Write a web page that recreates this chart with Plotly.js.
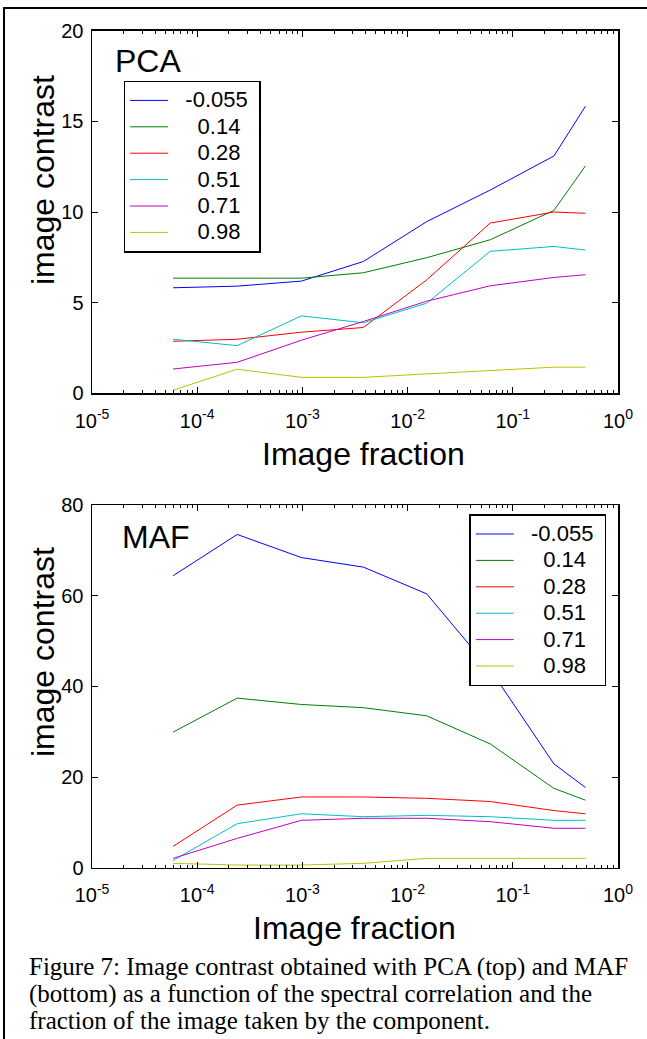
<!DOCTYPE html>
<html>
<head>
<meta charset="utf-8">
<script src="https://cdn.plot.ly/plotly-3.0.1.min.js"></script>
<style>html,body{margin:0;padding:0;background:#fff;}#chart{width:647px;height:1039px;}</style>
</head>
<body>
<div id="chart"></div>
<script>
// ---- data ----
const imageFraction = [5.9e-5, 2.4e-4, 9.8e-4, 3.8e-3, 0.0152, 0.061, 0.246, 0.49];
const correlations = ['-0.055', '0.14', '0.28', '0.51', '0.71', '0.98'];

const pcaNeg055 = [5.82, 5.91, 6.19, 7.27, 9.47, 11.21, 13.09, 15.83];
const pca014    = [6.35, 6.35, 6.35, 6.65, 7.48, 8.47, 10.09, 12.54];
const pca028    = [2.87, 2.98, 3.37, 3.63, 6.26, 9.39, 10.0, 9.93];
const pca051    = [2.98, 2.63, 4.27, 3.89, 4.97, 7.83, 8.10, 7.90];
const pca071    = [1.34, 1.71, 2.93, 3.96, 5.08, 5.93, 6.39, 6.54];
const pca098    = [0.17, 1.33, 0.88, 0.88, 1.07, 1.27, 1.44, 1.44];

const mafNeg055 = [64.4, 73.5, 68.4, 66.3, 60.4, 43.7, 22.9, 17.7];
const maf014    = [29.9, 37.4, 36.0, 35.3, 33.5, 27.3, 17.5, 14.9];
const maf028    = [4.7, 13.8, 15.6, 15.6, 15.3, 14.6, 12.6, 11.9];
const maf051    = [1.6, 9.7, 11.9, 11.25, 11.55, 11.25, 10.45, 10.45];
const maf071    = [2.06, 6.47, 10.45, 10.9, 10.9, 10.15, 8.7, 8.7];
const maf098    = [0.96, 0.59, 0.59, 0.96, 2.06, 2.06, 2.06, 2.06];

const xTickVals = [1e-5, 1e-4, 1e-3, 1e-2, 1e-1, 1];
const xTickText = ['10<sup>-5</sup>', '10<sup>-4</sup>', '10<sup>-3</sup>', '10<sup>-2</sup>', '10<sup>-1</sup>', '10<sup>0</sup>'];
const pcaYTicks = [0, 5, 10, 15, 20];
const mafYTicks = [0, 20, 40, 60, 80];

const captionLines = [
  'Figure 7: Image contrast obtained with PCA (top) and MAF',
  '(bottom) as a function of the spectral correlation and the',
  'fraction of the image taken by the component.'
];

// ---- styling ----
const colors = ['#0000ff', '#008000', '#ff0000', '#00bfbf', '#bf00bf', '#bfbf00'];
const W = 647, H = 1039;
const px = v => v / W;
const py = v => 1 - v / H;
const sans = 'Liberation Sans, Arial, Helvetica, sans-serif';
const serif = 'Liberation Serif, Times New Roman, serif';
const NB = '\u00a0';
const padName = s => '<span style="font-size:22px">' +
  (s.startsWith('-') ? NB.repeat(2) : NB.repeat(4)) + s + NB + '</span>';

const pcaSeries = [pcaNeg055, pca014, pca028, pca051, pca071, pca098];
const mafSeries = [mafNeg055, maf014, maf028, maf051, maf071, maf098];

const traces = [];
pcaSeries.forEach((ys, i) => traces.push({
  type: 'scatter', mode: 'lines', x: imageFraction, y: ys, name: padName(correlations[i]),
  xaxis: 'x', yaxis: 'y', legend: 'legend', line: {color: colors[i], width: 1}
}));
mafSeries.forEach((ys, i) => traces.push({
  type: 'scatter', mode: 'lines', x: imageFraction, y: ys, name: padName(correlations[i]),
  xaxis: 'x2', yaxis: 'y2', legend: 'legend2', line: {color: colors[i], width: 1}
}));

const axisBase = {
  showline: true, linecolor: 'black', linewidth: 1.5, mirror: 'ticks',
  ticks: 'inside', ticklen: 6, tickwidth: 1, tickcolor: 'black',
  showgrid: false, zeroline: false, fixedrange: true,
  tickfont: {family: sans, size: 20, color: 'black'}
};
const xAxis = (anchor) => Object.assign({}, axisBase, {
  type: 'log', range: [-5, 0], anchor: anchor,
  domain: [px(92), px(618)],
  tickmode: 'array', tickvals: xTickVals, ticktext: xTickText,
  ticklabelstandoff: 9,
  minor: {ticks: 'inside', ticklen: 3, tickwidth: 1, tickcolor: 'black', dtick: 'D1', showgrid: false}
});
const yAxis = (anchor, dom, rng, tv) => Object.assign({}, axisBase, {
  anchor: anchor, domain: dom, range: rng, tickmode: 'array', tickvals: tv,
  ticklabelstandoff: 3
});

const legendBase = {
  xanchor: 'left', yanchor: 'top', bgcolor: 'white', bordercolor: 'black', borderwidth: 1.5,
  font: {family: sans, size: 18, color: 'black'}, itemwidth: 38, traceorder: 'normal'
};

const titleFont = {family: sans, size: 32, color: 'black'};
const annotations = [
  {text: 'PCA', x: px(113), y: py(61), xanchor: 'left', yanchor: 'middle', font: titleFont},
  {text: 'MAF', x: px(120), y: py(537), xanchor: 'left', yanchor: 'middle', font: titleFont},
  {text: 'image contrast', x: px(43), y: py(180), textangle: -90, xanchor: 'center', yanchor: 'middle', font: titleFont},
  {text: 'image contrast', x: px(43), y: py(652), textangle: -90, xanchor: 'center', yanchor: 'middle', font: titleFont},
  {text: 'Image fraction', x: px(363), y: py(454), xanchor: 'center', yanchor: 'middle', font: titleFont},
  {text: 'Image fraction', x: px(354), y: py(928), xanchor: 'center', yanchor: 'middle', font: titleFont}
].concat(captionLines.map((t, i) => ({
  text: t, x: px(27), y: py(967 + 26.5 * i), xanchor: 'left', yanchor: 'middle',
  font: {family: serif, size: 25, color: 'black'}
}))).map(a => Object.assign({xref: 'paper', yref: 'paper', showarrow: false}, a));

const layout = {
  width: W, height: H, autosize: false,
  margin: {l: 0, r: 0, t: 0, b: 0, pad: 0},
  paper_bgcolor: 'white', plot_bgcolor: 'white',
  showlegend: true,
  xaxis: xAxis('y'),
  yaxis: yAxis('x', [py(393.3), py(30.7)], [0, 20], pcaYTicks),
  xaxis2: xAxis('y2'),
  yaxis2: yAxis('x2', [py(867.7), py(505)], [0, 80], mafYTicks),
  legend: Object.assign({}, legendBase, {x: px(123.6), y: py(80.7)}),
  legend2: Object.assign({}, legendBase, {x: px(469.3), y: py(514.3)}),
  annotations: annotations,
  shapes: [{type: 'rect', xref: 'paper', yref: 'paper', x0: px(4), x1: 1.02, y0: -0.02, y1: py(8),
            line: {color: 'black', width: 2}, fillcolor: 'rgba(0,0,0,0)', layer: 'below'}]
};

Plotly.newPlot('chart', traces, layout, {displayModeBar: false, staticPlot: true});
</script>
</body>
</html>
